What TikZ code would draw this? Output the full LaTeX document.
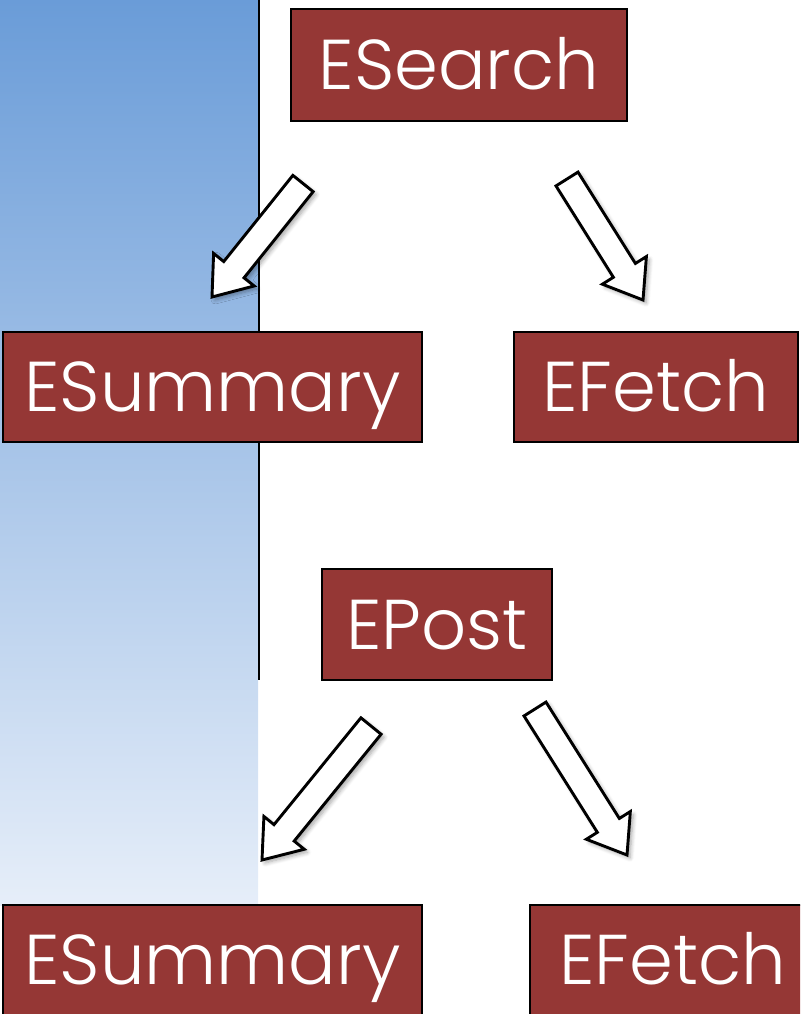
\documentclass[tikz,border=0pt]{standalone}
\usepackage{fontspec}
\usetikzlibrary{calc,shadows.blur}
\newfontfamily\boxfont{Poppins Light}
\definecolor{boxred}{RGB}{149,55,53}
\definecolor{paneltop}{RGB}{106,156,216}
\definecolor{panelbottom}{RGB}{230,238,249}

% white block arrow from #1 (tail centre) to #2 (tip)
\newcommand\blockarrow[2]{%
  \draw[blockarrow]
    ($(#1)!13pt!90:(#2)$) --
    ($(#2)!35pt!(#1)!13pt!-90:(#1)$) --
    ($(#2)!35pt!(#1)!26pt!-90:(#1)$) --
    (#2) --
    ($(#2)!35pt!(#1)!26pt!90:(#1)$) --
    ($(#2)!35pt!(#1)!13pt!90:(#1)$) --
    ($(#1)!13pt!-90:(#2)$) -- cycle;}

\tikzset{
  util/.style={draw=black, line width=2.6pt, fill=boxred, text=white,
    font=\boxfont\fontsize{70.5}{70.5}\selectfont,
    text height=49.5pt, text depth=0pt, inner sep=0pt},
  blockarrow/.style={draw=black, fill=white, line width=2.9pt, line join=miter,
    blur shadow={shadow xshift=3pt, shadow yshift=-3pt, shadow blur steps=6,
      shadow blur radius=4pt, shadow opacity=35}},
}

\begin{document}
\begin{tikzpicture}[x=1pt, y=1pt]
  \useasboundingbox (0,0) rectangle (800,-1014);
  \clip (0,0) rectangle (800,-1014);

  % side panel
  \shade[top color=paneltop, bottom color=panelbottom] (0,0) rectangle (258,-905);
  \draw[line width=2.4pt] (259,0) -- (259,-680);

  % utilities
  \node[util, minimum width=336pt, minimum height=112pt] (esearch)  at (459,-65)    {ESearch};
  \node[util, minimum width=419pt, minimum height=110pt] (esum1)    at (212.5,-387) {ESummary};
  \node[util, minimum width=284pt, minimum height=110pt] (efetch1)  at (656,-387)   {EFetch};
  \node[util, minimum width=230pt, minimum height=111pt] (epost)    at (437,-624.5) {EPost};
  \node[util, minimum width=419pt, minimum height=110pt] (esum2)    at (212.5,-960) {ESummary};
  \node[util, minimum width=285pt, minimum height=110pt] (efetch2)  at (672.5,-960) {EFetch};

  % arrow ends
  \coordinate (a1s) at (303,-183.5);
  \coordinate (a1e) at (212,-297);
  \coordinate (a2s) at (567,-179);
  \coordinate (a2e) at (643,-300);
  \coordinate (a3s) at (371,-726);
  \coordinate (a3e) at (262,-860);
  \coordinate (a4s) at (535,-709);
  \coordinate (a4e) at (627,-855);

  \blockarrow{a1s}{a1e}
  \blockarrow{a2s}{a2e}
  \blockarrow{a3s}{a3e}
  \blockarrow{a4s}{a4e}
\end{tikzpicture}
\end{document}
